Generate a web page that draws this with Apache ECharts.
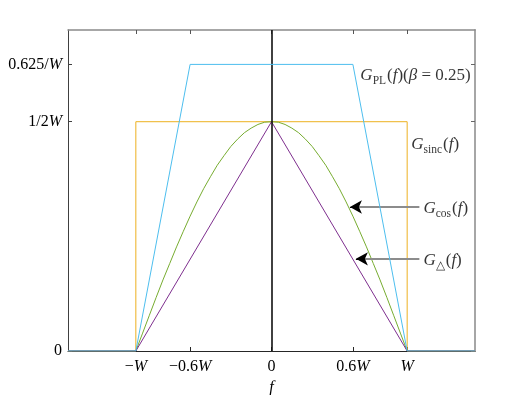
<!DOCTYPE html>
<html>
<head>
<meta charset="utf-8">
<script src="https://cdn.jsdelivr.net/npm/echarts@6/dist/echarts.min.js"></script>
<style>html,body{margin:0;padding:0;background:#fff;}#c{width:526px;height:395px;}</style>
</head>
<body>
<div id="c"></div>
<script>
// Data (f in units of W, G in units of 1/W)
var xTicks = [-1, -0.6, 0, 0.6, 1];
var xTickLabels = ['{r|\u2212}{i|W}', '{r|\u22120.6}{i|W}', '{r|0}', '{r|0.6}{i|W}', '{i|W}'];
var yTicks = [0, 0.5, 0.625];
var yTickLabels = ['{r|0}', '{r|1/2}{i|W}', '{r|0.625/}{i|W}'];

var sincF = [-1.5, -1, -1, 1, 1, 1.5];
var sincG = [0, 0, 0.5, 0.5, 0, 0];

var cosF = [-1.5, -1, -0.95, -0.9, -0.85, -0.8, -0.75, -0.7, -0.65, -0.6, -0.55, -0.5, -0.45, -0.4, -0.35, -0.3, -0.25, -0.2, -0.15, -0.1, -0.05,
            0, 0.05, 0.1, 0.15, 0.2, 0.25, 0.3, 0.35, 0.4, 0.45, 0.5, 0.55, 0.6, 0.65, 0.7, 0.75, 0.8, 0.85, 0.9, 0.95, 1, 1.5];
var cosG = [0, 0, 0.039, 0.078, 0.117, 0.155, 0.191, 0.227, 0.261, 0.294, 0.325, 0.354, 0.380, 0.405, 0.426, 0.446, 0.462, 0.476, 0.486, 0.494, 0.499,
            0.5, 0.499, 0.494, 0.486, 0.476, 0.462, 0.446, 0.426, 0.405, 0.380, 0.354, 0.325, 0.294, 0.261, 0.227, 0.191, 0.155, 0.117, 0.078, 0.039, 0, 0];

var triF = [-1.5, -1, 0, 1, 1.5];
var triG = [0, 0, 0.5, 0, 0];

var plF = [-1.5, -1, -0.6, 0.6, 1, 1.5];
var plG = [0, 0, 0.625, 0.625, 0, 0];

function zip(a, b) { return a.map(function (v, i) { return [v, b[i]]; }); }

var serif = 'Liberation Serif';
var richTxt = {
  r: { fontFamily: serif, fontSize: 16, color: '#000' },
  i: { fontFamily: serif, fontSize: 16, fontStyle: 'italic', color: '#000' }
};
var labelRich = {
  i: { fontFamily: serif, fontSize: 17, fontStyle: 'italic', color: '#000', lineHeight: 22, verticalAlign: 'middle' },
  r: { fontFamily: serif, fontSize: 17, color: '#000', lineHeight: 22, verticalAlign: 'middle' },
  s: { fontFamily: serif, fontSize: 11.5, color: '#000', lineHeight: 22, verticalAlign: 'bottom', padding: [0, 1, 0, 0] }
};

var chart = echarts.init(document.getElementById('c'));
var option = {
  animation: false,
  grid: { left: 68, right: 51, top: 30, bottom: 44, outerBoundsMode: 'none', containLabel: false },
  xAxis: [{
    type: 'value', min: -1.5, max: 1.5, position: 'bottom',
    axisLine: { show: true, onZero: false, lineStyle: { color: '#262626', width: 1 } },
    axisTick: { show: true, inside: true, length: 4, customValues: xTicks, lineStyle: { color: '#262626' } },
    axisLabel: {
      customValues: xTicks, margin: 8,
      formatter: function (v) { return xTickLabels[xTicks.indexOf(v)]; },
      rich: richTxt
    },
    splitLine: { show: false },
    name: 'f', nameLocation: 'middle', nameGap: 24,
    nameTextStyle: { fontFamily: serif, fontStyle: 'italic', fontSize: 16, color: '#000' }
  }, {
    type: 'value', min: -1.5, max: 1.5, position: 'top',
    axisLine: { show: true, onZero: false, lineStyle: { color: '#8a8a8a', width: 1.5 } },
    axisTick: { show: true, inside: true, length: 4, customValues: xTicks, lineStyle: { color: '#555' } },
    axisLabel: { show: false },
    splitLine: { show: false }
  }],
  yAxis: [{
    type: 'value', min: 0, max: 0.7, position: 'left',
    axisLine: { show: true, onZero: false, lineStyle: { color: '#404040', width: 1 } },
    axisTick: { show: true, inside: true, length: 4, customValues: yTicks, lineStyle: { color: '#404040' } },
    axisLabel: {
      customValues: yTicks, margin: 6,
      formatter: function (v) { return yTickLabels[yTicks.indexOf(v)]; },
      rich: richTxt
    },
    splitLine: { show: false }
  }, {
    type: 'value', min: 0, max: 0.7, position: 'right',
    axisLine: { show: true, onZero: false, lineStyle: { color: '#a6a6a6', width: 2 } },
    axisTick: { show: true, inside: true, length: 4, customValues: yTicks, lineStyle: { color: '#666' } },
    axisLabel: { show: false },
    splitLine: { show: false }
  }],
  series: [
    {
      type: 'line', name: 'sinc', data: zip(sincF, sincG), showSymbol: false, symbol: 'none',
      lineStyle: { color: '#EDB120', width: 1 }, z: 2,
      markLine: {
        silent: true, symbol: ['none', 'none'],
        lineStyle: { color: '#111', width: 1.6, type: 'solid' },
        label: { show: false },
        data: [{ xAxis: 0 }]
      }
    },
    {
      type: 'line', name: 'cos', data: zip(cosF, cosG), showSymbol: false, symbol: 'none', smooth: false,
      lineStyle: { color: '#77AC30', width: 1 }, z: 3
    },
    {
      type: 'line', name: 'tri', data: zip(triF, triG), showSymbol: false, symbol: 'none',
      lineStyle: { color: '#7E2F8E', width: 1 }, z: 4
    },
    {
      type: 'line', name: 'pl', data: zip(plF, plG), showSymbol: false, symbol: 'none',
      lineStyle: { color: '#4DBEEE', width: 1 }, z: 5
    },
    {
      // annotation arrow shafts
      type: 'line', name: 'arrows', data: [], z: 6,
      markLine: {
        silent: true, symbol: ['none', 'none'],
        lineStyle: { color: '#8c8c8c', width: 2, type: 'solid' },
        label: { show: false },
        data: [
          [{ coord: [1.09, 0.314] }, { coord: [0.62, 0.314] }],
          [{ coord: [1.09, 0.201] }, { coord: [0.66, 0.201] }]
        ]
      }
    },
    {
      // annotation arrow heads
      type: 'line', name: 'heads', data: [], z: 7,
      markLine: {
        silent: true, symbol: ['none', 'arrow'], symbolSize: [10, 12],
        lineStyle: { color: '#000', width: 1, type: 'solid' },
        label: { show: false },
        data: [
          [{ coord: [0.64, 0.314] }, { coord: [0.578, 0.314] }],
          [{ coord: [0.684, 0.201] }, { coord: [0.622, 0.201] }]
        ]
      }
    },
    {
      type: 'scatter', name: 'labels', z: 8, silent: true, symbolSize: 0,
      label: { show: true, position: 'right', distance: 0, rich: labelRich },
      data: [
        { value: [0.655, 0.6], label: { formatter: '{i|G}{s|PL}{r|(}{i|f}{r|)(}{i|\u03b2}{r| = 0.25)}' } },
        { value: [1.03, 0.45], label: { formatter: '{i|G}{s|sinc}{r|(}{i|f}{r|)}' } },
        { value: [1.12, 0.31], label: { formatter: '{i|G}{s|cos}{r|(}{i|f}{r|)}' } },
        { value: [1.12, 0.197], label: { formatter: '{i|G}{s|\u25b3}{r|(}{i|f}{r|)}' } }
      ]
    }
  ]
};
chart.setOption(option);
</script>
</body>
</html>
